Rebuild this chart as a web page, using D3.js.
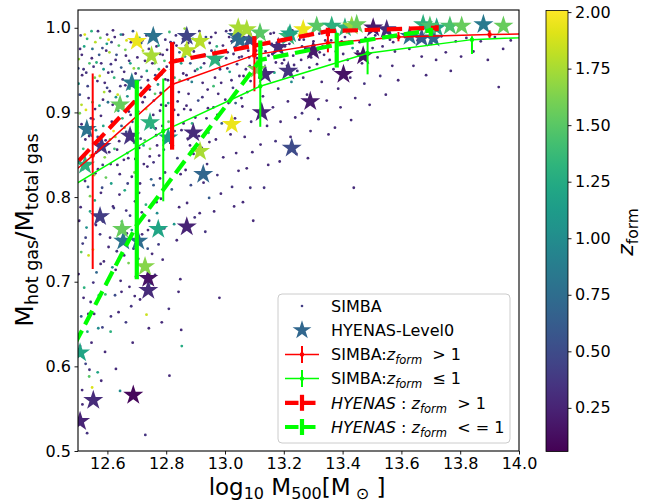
<!DOCTYPE html>
<html>
<head>
<meta charset="utf-8">
<script src="https://cdn.jsdelivr.net/npm/d3@7"></script>
<style>
  body { margin: 0; background: #fff; }
  text { font-family: "DejaVu Sans", sans-serif; white-space: pre; }
</style>
</head>
<body>
<svg id="chart" width="648" height="502"></svg>
<script>
// tick labels
var xTicks = [12.6, 12.8, 13.0, 13.2, 13.4, 13.6, 13.8, 14.0];
var yTicks = [0.5, 0.6, 0.7, 0.8, 0.9, 1.0];
var zTicks = [0.25, 0.5, 0.75, 1.0, 1.25, 1.5, 1.75, 2.0];

// SIMBA haloes: [log10 M500, hot gas fraction, z_form]
var simbaDots = [
  [12.503,0.963,1.7],[12.509,0.991,0.4],[12.514,0.944,0.3],[12.521,0.978,1.2],[12.506,0.921,0.55],[12.527,0.903,1.9],
  [12.512,0.886,0.3],[12.533,0.931,0.45],[12.518,0.857,1.4],[12.538,0.872,0.3],[12.504,0.842,0.8],[12.524,0.819,0.35],
  [12.541,0.801,1.6],[12.509,0.788,0.3],[12.529,0.764,1.05],[12.516,0.745,0.4],[12.536,0.731,1.85],[12.502,0.709,0.3],
  [12.521,0.693,1.3],[12.543,0.676,0.35],[12.511,0.659,0.6],[12.532,0.641,1.2],[12.507,0.624,0.3],[12.526,0.603,0.45],
  [12.538,0.588,1.5],[12.514,0.572,0.3],[12.531,0.521,0.35],[12.546,0.996,1.3],[12.553,0.954,0.35],[12.559,0.983,1.8],
  [12.566,0.937,0.3],[12.572,0.968,0.6],[12.549,0.912,1.45],[12.578,0.896,0.3],[12.561,0.879,1.0],[12.585,0.915,0.3],
  [12.554,0.864,0.4],[12.591,0.847,1.65],[12.568,0.833,0.3],[12.582,0.811,0.5],[12.557,0.796,1.25],[12.594,0.779,0.3],
  [12.575,0.756,0.35],[12.551,0.738,1.9],[12.588,0.724,0.3],[12.563,0.711,0.7],[12.597,0.697,0.3],[12.571,0.684,1.35],
  [12.555,0.662,0.3],[12.583,0.646,0.45],[12.592,0.617,0.3],[12.567,0.593,1.2],[12.579,0.583,0.3],[12.548,0.575,1.9],
  [12.587,0.951,1.1],[12.596,0.973,0.3],[12.576,0.988,1.55],[12.599,0.929,0.45],[12.559,0.828,0.3],[12.547,0.883,1.75],
  [12.573,0.862,0.3],
  [12.604,0.986,1.9],[12.612,0.957,0.35],[12.619,0.997,0.3],[12.623,0.941,1.35],[12.608,0.925,0.3],[12.631,0.968,0.55],
  [12.637,0.902,1.2],[12.615,0.889,0.3],[12.644,0.931,0.4],[12.627,0.871,1.7],[12.606,0.853,0.3],[12.648,0.884,0.65],
  [12.634,0.838,0.3],[12.613,0.816,1.15],[12.641,0.803,0.3],[12.622,0.787,0.4],[12.649,0.771,1.45],[12.609,0.752,0.3],
  [12.632,0.736,0.35],[12.617,0.717,1.0],[12.645,0.701,0.3],[12.626,0.684,0.5],[12.638,0.664,0.3],[12.611,0.641,1.3],
  [12.629,0.597,0.3],[12.643,0.571,1.0],[12.653,0.992,0.3],[12.661,0.974,1.6],[12.657,0.948,0.3],[12.668,0.919,1.05],
  [12.674,0.961,0.35],[12.679,0.897,0.3],[12.664,0.877,0.5],[12.686,0.936,0.3],[12.691,0.864,1.4],[12.671,0.846,0.3],
  [12.683,0.824,0.35],[12.659,0.808,1.25],[12.694,0.795,0.3],[12.677,0.778,0.45],[12.666,0.757,0.3],[12.689,0.739,0.35],
  [12.672,0.722,1.6],[12.697,0.706,0.3],[12.681,0.671,0.35],[12.663,0.652,0.4],[12.686,0.628,0.3],[12.698,0.981,0.3],
  [12.655,0.907,1.8],[12.695,0.913,0.3],
  [12.702,0.965,0.3],[12.709,0.988,1.45],[12.716,0.942,0.35],[12.721,0.973,1.8],[12.727,0.918,0.3],[12.705,0.901,0.55],
  [12.734,0.949,1.2],[12.739,0.886,0.3],[12.713,0.869,0.4],[12.745,0.857,1.6],[12.724,0.839,0.3],[12.749,0.821,0.7],
  [12.708,0.805,0.3],[12.731,0.791,1.3],[12.742,0.772,0.35],[12.718,0.756,0.3],[12.737,0.739,0.55],[12.726,0.715,0.3],
  [12.748,0.698,1.0],[12.711,0.679,0.3],[12.733,0.661,1.85],[12.741,0.645,0.3],[12.729,0.519,0.35],[12.754,0.993,0.3],
  [12.761,0.958,1.65],[12.767,0.978,0.3],[12.772,0.933,1.1],[12.758,0.914,0.35],[12.779,0.902,0.3],[12.784,0.945,0.5],
  [12.764,0.881,0.3],[12.791,0.867,1.2],[12.776,0.849,0.3],[12.796,0.829,0.35],[12.757,0.814,0.6],[12.782,0.798,0.3],
  [12.769,0.781,1.0],[12.793,0.763,0.3],[12.774,0.744,0.4],[12.788,0.726,0.3],[12.762,0.708,0.35],[12.785,0.652,0.3],
  [12.797,0.986,0.35],[12.779,0.969,0.3],
  [12.803,0.974,0.3],[12.811,0.995,1.4],[12.817,0.951,0.35],[12.826,0.982,0.3],[12.822,0.928,0.55],[12.834,0.962,0.3],
  [12.807,0.911,1.2],[12.841,0.897,0.3],[12.829,0.878,0.35],[12.846,0.938,1.6],[12.814,0.864,0.3],[12.838,0.846,0.4],
  [12.849,0.827,0.3],[12.819,0.809,0.6],[12.844,0.788,0.3],[12.827,0.768,1.1],[12.836,0.749,0.3],[12.848,0.703,0.3],
  [12.842,0.688,0.3],[12.809,0.668,0.35],[12.851,0.643,0.3],[12.853,0.624,1.25],[12.811,0.589,0.3],[12.857,0.987,0.35],
  [12.864,0.966,1.2],[12.869,0.944,0.3],[12.876,0.922,0.3],[12.882,0.958,0.6],[12.861,0.904,0.3],[12.888,0.887,1.3],
  [12.873,0.869,0.3],[12.893,0.851,0.35],[12.866,0.832,0.3],[12.884,0.814,0.5],[12.871,0.793,0.3],[12.897,0.776,0.35],
  [12.905,0.979,0.3],[12.913,0.996,0.35],[12.918,0.953,1.1],[12.924,0.935,0.3],[12.931,0.968,0.3],[12.909,0.914,0.5],
  [12.937,0.893,0.3],[12.944,0.876,1.4],[12.921,0.858,0.3],[12.939,0.839,0.35],[12.927,0.817,0.3],[12.946,0.799,0.6],
  [12.914,0.781,0.3],[12.933,0.759,0.35],[12.942,0.905,0.3],[12.948,0.982,0.3],
  [12.953,0.989,0.3],[12.958,0.962,0.5],[12.966,0.941,0.3],[12.972,0.978,1.3],[12.977,0.922,0.3],[12.961,0.906,0.35],
  [12.983,0.951,0.3],[12.989,0.887,0.6],[12.969,0.868,0.3],[12.994,0.847,0.3],[12.974,0.826,0.35],[12.986,0.804,0.3],
  [12.963,0.783,0.3],[12.981,0.681,0.3],[13.004,0.996,0.35],[13.009,0.971,0.3],[13.016,0.948,1.2],[13.023,0.984,0.3],
  [13.027,0.929,0.4],[13.012,0.911,0.3],[13.034,0.893,0.3],[13.041,0.957,0.35],[13.019,0.874,0.3],[13.038,0.852,0.3],
  [13.046,0.831,0.3],[13.024,0.812,0.35],[13.031,0.789,0.3],[13.052,0.992,0.3],[13.057,0.966,0.35],[13.063,0.943,0.3],
  [13.071,0.981,0.6],[13.076,0.924,0.3],[13.059,0.907,0.3],[13.084,0.955,0.3],[13.089,0.889,0.35],[13.067,0.871,0.3],
  [13.093,0.853,0.3],[13.074,0.834,0.3],[13.086,0.811,0.35],[13.061,0.794,0.3],[13.096,0.772,0.3],
  [13.103,0.987,0.3],[13.109,0.964,0.35],[13.117,0.941,0.3],[13.124,0.976,1.1],[13.129,0.919,0.3],[13.112,0.901,0.3],
  [13.136,0.953,0.35],[13.143,0.884,0.3],[13.121,0.862,0.3],[13.147,0.838,0.3],[13.133,0.811,0.35],[13.155,0.993,0.3],
  [13.161,0.969,0.3],[13.168,0.947,1.2],[13.176,0.982,0.3],[13.181,0.928,0.35],[13.163,0.906,0.3],[13.189,0.889,0.3],
  [13.194,0.958,0.3],[13.172,0.866,0.35],[13.186,0.842,0.3],[13.204,0.978,0.35],[13.211,0.955,0.3],[13.218,0.991,0.3],
  [13.226,0.936,1.0],[13.232,0.967,0.3],[13.214,0.913,0.3],[13.239,0.894,0.3],[13.246,0.949,0.35],[13.223,0.871,0.3],
  [13.243,0.851,0.3],[13.253,0.986,0.3],[13.259,0.962,0.3],[13.266,0.941,0.35],[13.273,0.975,0.3],[13.279,0.921,0.3],
  [13.287,0.953,0.3],[13.262,0.899,0.35],[13.291,0.878,0.3],[13.282,0.846,0.3],[13.297,0.992,0.3],
  [13.304,0.979,0.3],[13.313,0.957,0.3],[13.321,0.993,0.35],[13.329,0.936,0.3],[13.337,0.968,0.3],[13.346,0.914,0.3],
  [13.318,0.892,0.35],[13.352,0.874,0.3],[13.361,0.985,0.3],[13.369,0.951,0.3],[13.377,0.972,0.35],[13.385,0.928,0.3],
  [13.393,0.906,0.3],[13.374,0.882,0.3],[13.408,0.989,0.3],[13.417,0.962,0.35],[13.426,0.941,0.3],[13.434,0.976,1.1],
  [13.443,0.917,0.3],[13.429,0.891,0.3],[13.438,0.811,0.3],[13.458,0.983,0.3],[13.466,0.958,0.3],[13.474,0.934,0.35],
  [13.483,0.971,0.3],[13.492,0.909,0.3],[13.511,0.991,0.3],[13.519,0.965,0.3],[13.528,0.943,0.35],[13.536,0.978,0.3],
  [13.547,0.921,0.3],[13.561,0.986,0.3],[13.569,0.955,0.3],[13.578,0.972,0.3],[13.589,0.938,0.3],
  [13.612,0.989,0.3],[13.627,0.975,0.3],[13.641,0.955,0.3],[13.655,0.985,0.35],[13.669,0.966,0.3],[13.684,0.944,0.3],
  [13.702,0.981,0.3],[13.718,0.962,0.3],[13.736,0.990,0.3],[13.751,0.971,0.3],[13.768,0.949,0.3],[13.785,0.984,0.3],
  [13.803,0.966,0.3],[13.821,0.988,0.3],[13.845,0.972,0.3],[13.870,0.984,0.3],[13.894,0.962,0.3],[13.918,0.989,0.3],
  [13.946,0.975,0.3],[13.972,0.985,0.3],[13.931,0.930,0.3],
  // second pass over the dense low-mass cloud
  [12.501,0.952,0.5],[12.506,0.899,1.6],[12.513,0.968,0.3],[12.517,0.833,1.0],[12.523,0.992,1.9],[12.528,0.947,0.35],
  [12.534,0.812,0.6],[12.539,0.958,1.45],[12.544,0.893,0.3],[12.549,0.975,0.8],[12.555,0.826,1.7],[12.558,0.904,0.3],
  [12.563,0.959,1.3],[12.567,0.871,0.45],[12.574,0.943,1.85],[12.578,0.805,0.3],[12.583,0.976,0.5],[12.586,0.884,1.2],
  [12.591,0.935,0.3],[12.595,0.823,1.55],[12.599,0.992,0.35],[12.602,0.912,0.8],[12.607,0.971,1.75],[12.611,0.839,0.3],
  [12.616,0.948,0.4],[12.621,0.878,1.95],[12.625,0.989,0.3],[12.629,0.918,1.1],[12.633,0.856,0.3],[12.639,0.979,1.5],
  [12.642,0.827,0.3],[12.647,0.953,0.65],[12.651,0.893,1.35],[12.656,0.844,0.3],[12.661,0.932,0.3],[12.665,0.985,1.9],
  [12.669,0.816,0.45],[12.673,0.901,0.3],[12.678,0.958,1.2],[12.682,0.871,0.3],[12.687,0.996,0.55],[12.692,0.829,1.6],
  [12.696,0.946,0.3],[12.701,0.883,0.35],[12.706,0.952,1.4],[12.711,0.816,0.3],[12.714,0.929,0.5],[12.719,0.985,0.3],
  [12.723,0.861,1.25],[12.728,0.961,0.3],[12.732,0.904,1.8],[12.736,0.836,0.3],[12.741,0.975,0.4],[12.744,0.927,0.3],
  [12.748,0.882,1.05],[12.753,0.958,0.3],[12.757,0.841,0.35],[12.762,0.922,1.5],[12.766,0.873,0.3],[12.771,0.991,0.3],
  [12.775,0.951,1.3],[12.779,0.822,0.3],[12.783,0.909,0.35],[12.788,0.968,0.3],[12.792,0.856,0.6],[12.797,0.939,0.3],
  [12.504,0.772,0.3],[12.511,0.735,1.5],[12.519,0.681,0.3],[12.526,0.752,0.45],[12.535,0.662,0.3],[12.541,0.783,1.2],
  [12.546,0.628,0.3],[12.552,0.699,0.35],[12.561,0.767,0.3],[12.569,0.645,1.0],[12.577,0.721,0.3],[12.585,0.771,0.3],
  [12.593,0.685,1.4],[12.604,0.741,0.3],[12.612,0.659,0.35],[12.619,0.789,0.3],[12.628,0.714,0.3],[12.636,0.751,1.3],
  [12.648,0.688,0.3],[12.657,0.731,0.3],[12.664,0.784,0.35],[12.675,0.694,0.3],[12.683,0.761,1.1],[12.693,0.683,0.3],
  [12.705,0.727,0.3],[12.717,0.782,0.35],[12.738,0.761,0.3],[12.752,0.733,0.3],[12.767,0.794,0.3],[12.515,0.555,0.3],
  [12.539,0.596,0.35],
  [12.802,0.954,0.3],[12.808,0.889,1.5],[12.815,0.983,0.3],[12.821,0.862,0.3],[12.828,0.941,1.2],[12.833,0.991,0.35],
  [12.839,0.913,0.3],[12.845,0.971,0.6],[12.852,0.879,0.3],[12.858,0.946,0.3],[12.863,0.999,1.7],[12.869,0.908,0.3],
  [12.875,0.982,0.35],[12.881,0.861,0.3],[12.887,0.936,0.9],[12.894,0.972,0.3],[12.899,0.894,0.3],[12.906,0.951,1.3],
  [12.911,0.872,0.3],[12.917,0.986,0.3],[12.923,0.918,0.35],[12.929,0.958,0.3],[12.935,0.989,0.5],[12.941,0.927,0.3],
  [12.947,0.865,0.3],[12.954,0.973,0.3],[12.961,0.931,1.4],[12.968,0.994,0.3],[12.974,0.897,0.3],[12.979,0.962,0.35],
  [12.987,0.935,0.3],[12.993,0.979,0.3],[13.001,0.915,0.3],[13.008,0.952,0.35],[13.014,0.989,0.3],[13.022,0.938,0.3],
  [13.029,0.969,0.3],[13.036,0.911,0.6],[13.044,0.981,0.3],[13.049,0.943,0.3],[13.056,0.917,0.3],[13.064,0.989,0.3],
  [13.071,0.951,0.35],[13.079,0.973,0.3],[13.087,0.937,0.3],[13.094,0.988,0.3],
  [13.106,0.973,0.3],[13.119,0.958,0.3],[13.131,0.989,0.35],[13.148,0.967,0.3],[13.159,0.981,0.3],[13.173,0.959,0.3],
  [13.188,0.973,0.3],[13.201,0.962,0.35],[13.219,0.981,0.3],[13.235,0.956,0.3],[13.251,0.971,0.3],[13.268,0.986,0.3],
  [13.284,0.966,0.3],[13.301,0.984,0.3],[13.322,0.971,0.3],[13.341,0.985,0.3],[13.356,0.962,0.3],[13.381,0.992,0.3],
  [13.402,0.969,0.3],[13.421,0.983,0.3],[13.451,0.972,0.3],[13.478,0.988,0.3],[13.502,0.976,0.3],[13.541,0.991,0.3],
  [13.572,0.983,0.3],
  // third pass, upper part of the cloud
  [12.502,0.934,1.1],[12.507,0.975,0.3],[12.512,0.909,1.8],[12.519,0.951,0.35],[12.525,0.868,0.3],[12.531,0.987,1.35],
  [12.536,0.917,0.3],[12.542,0.849,1.9],[12.547,0.964,0.3],[12.552,0.892,0.55],[12.557,0.941,1.6],[12.562,0.853,0.3],
  [12.568,0.996,0.35],[12.573,0.908,1.25],[12.579,0.958,0.3],[12.584,0.838,0.4],[12.589,0.924,1.75],[12.594,0.867,0.3],
  [12.598,0.981,1.15],[12.603,0.947,0.3],[12.609,0.868,1.6],[12.614,0.983,0.45],[12.618,0.909,0.3],[12.624,0.857,1.4],
  [12.628,0.962,0.3],[12.635,0.921,1.85],[12.640,0.866,0.3],[12.646,0.992,1.0],[12.652,0.939,0.3],[12.658,0.882,1.55],
  [12.663,0.967,0.3],[12.668,0.852,0.6],[12.675,0.928,1.3],[12.680,0.983,0.3],[12.685,0.889,0.45],[12.690,0.952,1.7],
  [12.695,0.845,0.3],[12.703,0.935,1.2],[12.708,0.858,0.3],[12.715,0.982,0.6],[12.720,0.912,0.3],[12.727,0.867,1.5],
  [12.733,0.991,0.3],[12.738,0.938,0.35],[12.744,0.848,0.3],[12.750,0.971,1.9],[12.756,0.897,0.3],[12.763,0.944,0.4],
  [12.769,0.861,0.3],[12.774,0.979,1.25],[12.781,0.923,0.3],[12.787,0.884,0.35],[12.794,0.961,1.45],[12.799,0.908,0.3],
  [12.806,0.938,0.3],[12.813,0.874,0.35],[12.820,0.966,1.6],[12.827,0.903,0.3],[12.835,0.979,0.3],[12.843,0.924,0.35],
  [12.851,0.958,1.15],[12.859,0.887,0.3],[12.867,0.979,0.3],[12.874,0.939,0.35],[12.883,0.903,0.3],[12.891,0.987,1.3],
  [12.898,0.949,0.3],[13.004,0.964,0.3],[13.018,0.997,0.3],[13.033,0.977,0.35],[13.048,0.965,0.3],[13.067,0.996,0.3],
  [13.082,0.965,0.3],[13.115,0.995,0.3],[13.138,0.972,0.3],[13.166,0.994,0.3],[13.196,0.984,0.3],[13.229,0.997,0.3],
  [13.262,0.978,0.35],[13.293,0.965,0.3],[13.332,0.978,0.3],[13.365,0.996,0.3],[13.397,0.984,0.3]
];

// HYENAS-Level0 haloes: [log10 M500, hot gas fraction, z_form]
var hyenasStars = [
  [12.507,0.535,0.25],[12.552,0.560,0.3],[12.688,0.566,0.1],[12.507,0.616,1.2],[12.739,0.690,0.3],[12.739,0.704,0.15],
  [12.728,0.718,1.65],[12.654,0.748,0.8],[12.705,0.748,0.75],[12.650,0.762,1.55],[12.773,0.762,1.2],[12.870,0.765,0.25],
  [12.575,0.777,0.4],[12.926,0.827,0.7],[12.524,0.838,1.3],[12.915,0.854,1.75],[13.227,0.858,0.5],[12.580,0.860,0.35],
  [12.807,0.870,1.1],[12.677,0.872,0.35],[12.892,0.876,0.3],[12.530,0.880,0.8],[13.023,0.886,1.95],[12.745,0.888,1.3],
  [13.125,0.900,0.25],[12.643,0.909,1.55],[13.290,0.913,0.2],[12.683,0.935,0.85],[13.136,0.945,0.3],[13.403,0.945,0.15],
  [13.215,0.949,0.35],[13.108,0.951,1.6],[12.966,0.963,1.3],[12.750,0.967,1.75],[13.470,0.967,0.15],[12.870,0.973,1.8],
  [13.300,0.973,0.2],[13.181,0.977,0.3],[12.700,0.984,1.95],[12.915,0.984,1.8],[13.085,0.986,0.5],[13.669,0.988,0.6],
  [13.709,0.988,0.7],[12.756,0.990,0.8],[12.870,0.990,0.45],[13.040,0.990,0.7],[13.051,0.985,0.75],[13.215,0.990,1.35],
  [13.628,0.990,0.75],[13.119,0.994,1.5],[13.221,0.993,1.2],[13.074,0.998,1.75],[13.266,0.998,1.95],[13.550,0.998,0.3],
  [13.504,1.000,0.2],[13.045,1.000,1.75],[13.720,1.000,1.2],[13.312,1.002,1.5],[13.363,1.002,1.3],[13.408,1.000,1.3],
  [13.431,1.002,1.7],[13.448,1.004,1.55],[13.674,1.004,1.3],[13.697,1.002,1.45],[13.765,1.002,1.45],[13.805,1.002,1.55],
  [13.879,1.004,0.85],[13.947,1.002,1.55]
];

// binned medians: [log10 M500, median, lower, upper]
var simbaHighZ = [
  [12.30,0.775,0.70,0.84],[12.55,0.849,0.715,0.946],[12.82,0.933,0.885,0.972],[13.10,0.968,0.925,0.983],
  [13.35,0.982,0.971,0.998],[13.59,0.989,0.984,0.995],[13.90,0.992,0.988,0.997],[14.20,0.994,0.990,0.998]
];
var simbaLowZ = [
  [12.30,0.775,0.68,0.84],[12.79,0.878,0.795,0.940],[13.12,0.931,0.883,0.977],[13.485,0.970,0.945,0.984],
  [13.84,0.986,0.969,0.990],[14.20,0.991,0.980,0.997]
];
var hyenasHighZ = [
  [12.40,0.805,0.70,0.90],[12.82,0.960,0.856,0.983],[13.10,0.979,0.965,0.990],[13.35,0.996,0.990,1.000],
  [13.72,1.000,0.996,1.003]
];
var hyenasLowZ = [
  [12.42,0.580,0.50,0.66],[12.70,0.767,0.703,0.938],[13.12,0.962,0.940,0.985],[13.38,0.980,0.953,0.994],
  [13.70,0.997,0.990,1.000]
];

var plot = {left: 78, top: 10, right: 519, bottom: 451};

var x = d3.scaleLinear().domain([12.5, 14.0]).range([plot.left, plot.right]);
var y = d3.scaleLinear().domain([0.5, 1.021]).range([plot.bottom, plot.top]);
var zScale = d3.scaleLinear().domain([0.057, 2.007]).range([451.5, 10.5]);
var color = d3.scaleSequential(d3.interpolateViridis).domain([0.057, 2.007]);

var svg = d3.select("#chart");
var defs = svg.append("defs");

defs.append("clipPath").attr("id", "clip")
  .append("rect")
  .attr("x", plot.left).attr("y", plot.top)
  .attr("width", plot.right - plot.left).attr("height", plot.bottom - plot.top);

var g = svg.append("g").attr("clip-path", "url(#clip)");

// SIMBA scatter
g.append("g").selectAll("circle")
    .data(simbaDots)
  .enter().append("circle")
    .attr("cx", function(d) { return x(d[0]); })
    .attr("cy", function(d) { return y(d[1]); })
    .attr("r", 1.4)
    .attr("fill", function(d) { return color(d[2]); });

// HYENAS stars
var star = d3.symbol(d3.symbolStar, 125);
g.append("g").selectAll("path")
    .data(hyenasStars)
  .enter().append("path")
    .attr("d", star)
    .attr("transform", function(d) { return "translate(" + x(d[0]) + "," + y(d[1]) + ")"; })
    .attr("fill", function(d) { return color(d[2]); });

// median lines with error bars
function drawSeries(data, col, lw, ebw, dash, marker) {
  var s = g.append("g");
  s.selectAll("line")
      .data(data)
    .enter().append("line")
      .attr("x1", function(d) { return x(d[0]); })
      .attr("x2", function(d) { return x(d[0]); })
      .attr("y1", function(d) { return y(d[2]); })
      .attr("y2", function(d) { return y(d[3]); })
      .attr("stroke", col)
      .attr("stroke-width", ebw);
  s.append("path")
      .datum(data)
      .attr("d", d3.line().x(function(d) { return x(d[0]); }).y(function(d) { return y(d[1]); }))
      .attr("fill", "none")
      .attr("stroke", col)
      .attr("stroke-width", lw)
      .attr("stroke-dasharray", dash);
  if (marker) {
    s.selectAll("circle")
        .data(data)
      .enter().append("circle")
        .attr("cx", function(d) { return x(d[0]); })
        .attr("cy", function(d) { return y(d[1]); })
        .attr("r", 2.2)
        .attr("fill", col);
  }
}
drawSeries(simbaHighZ, "#ff0000", 1.5, 2, null, true);
drawSeries(simbaLowZ, "#00ff00", 1.5, 2, null, true);
drawSeries(hyenasHighZ, "#ff0000", 4.2, 4.2, "15.4,6.7", false);
drawSeries(hyenasLowZ, "#00ff00", 4.2, 4.2, "15.4,6.7", false);

// frame and axes
svg.append("rect")
  .attr("x", plot.left).attr("y", plot.top)
  .attr("width", plot.right - plot.left).attr("height", plot.bottom - plot.top)
  .attr("fill", "none").attr("stroke", "#000").attr("stroke-width", 1.1);

var xAxis = svg.append("g")
  .attr("transform", "translate(0," + plot.bottom + ")")
  .call(d3.axisBottom(x).tickValues(xTicks).tickFormat(d3.format(".1f"))
    .tickSize(3.5).tickSizeOuter(0).tickPadding(3.5));
var yAxis = svg.append("g")
  .attr("transform", "translate(" + plot.left + ",0)")
  .call(d3.axisLeft(y).tickValues(yTicks).tickFormat(d3.format(".1f"))
    .tickSize(3.5).tickSizeOuter(0).tickPadding(3.5));

// colorbar
var grad = defs.append("linearGradient").attr("id", "viridis")
  .attr("x1", 0).attr("y1", 1).attr("x2", 0).attr("y2", 0);
d3.range(0, 1.0001, 0.05).forEach(function(t) {
  grad.append("stop").attr("offset", t).attr("stop-color", d3.interpolateViridis(t));
});
svg.append("rect")
  .attr("x", 546).attr("y", 10.5).attr("width", 22).attr("height", 441)
  .attr("fill", "url(#viridis)").attr("stroke", "#000").attr("stroke-width", 0.8);
var cAxis = svg.append("g")
  .attr("transform", "translate(568,0)")
  .call(d3.axisRight(zScale).tickValues(zTicks).tickFormat(d3.format(".2f"))
    .tickSize(3.5).tickSizeOuter(0).tickPadding(3.5));

[xAxis, yAxis, cAxis].forEach(function(a) {
  a.select(".domain").remove();
  a.attr("font-family", "DejaVu Sans").attr("font-size", 16);
  a.selectAll("line").attr("stroke", "#000").attr("stroke-width", 0.9);
  a.selectAll("text").attr("fill", "#000");
});

// text helper: parts are [text, style] with style "", "i", "sub", "isub"
function richText(sel, parts, size, subSize, shift) {
  var down = false;
  parts.forEach(function(p) {
    var t = sel.append("tspan").text(p[0]);
    var isSub = p[1] === "sub" || p[1] === "isub";
    if (p[1] === "i" || p[1] === "isub") t.attr("font-style", "italic");
    t.attr("font-size", isSub ? subSize : size);
    if (isSub && !down) { t.attr("dy", shift); down = true; }
    if (!isSub && down) { t.attr("dy", -shift); down = false; }
  });
}

// axis labels
richText(svg.append("text").attr("x", 297).attr("y", 495).attr("text-anchor", "middle"),
  [["log", ""], ["10", "sub"], [" M", ""], ["500", "sub"], ["[M", ""], [" \u2299", "sub"], [" ]", ""]], 23, 16, 4);
richText(svg.append("text").attr("transform", "translate(33,230) rotate(-90)").attr("text-anchor", "middle"),
  [["M", ""], ["hot gas", "sub"], ["/M", ""], ["total gas", "sub"]], 25, 17.5, 5);
richText(svg.append("text").attr("transform", "translate(633,232) rotate(-90)").attr("text-anchor", "middle"),
  [["z", "i"], ["form", "sub"]], 22, 15.5, 4.5);

// legend
var leg = svg.append("g");
leg.append("rect")
  .attr("x", 278).attr("y", 294).attr("width", 232).attr("height", 149).attr("rx", 4)
  .attr("fill", "#fff").attr("fill-opacity", 0.8).attr("stroke", "#cccccc").attr("stroke-width", 1);

var legRows = [
  {kind: "dot", parts: [["SIMBA", ""]]},
  {kind: "star", parts: [["HYENAS-Level0", ""]]},
  {kind: "thin", col: "#ff0000", parts: [["SIMBA:", ""], ["z", "i"], ["form", "isub"], ["  > 1", ""]]},
  {kind: "thin", col: "#00ff00", parts: [["SIMBA:", ""], ["z", "i"], ["form", "isub"], ["  \u2264 1", ""]]},
  {kind: "thick", col: "#ff0000", parts: [["HYENAS", "i"], [" : ", ""], ["z", "i"], ["form", "isub"], ["  > 1", ""]]},
  {kind: "thick", col: "#00ff00", parts: [["HYENAS", "i"], [" : ", ""], ["z", "i"], ["form", "isub"], ["  < = 1", ""]]}
];

legRows.forEach(function(r, i) {
  var cy = 306 + i * 24.2;
  var hx = 302;
  if (r.kind === "dot") {
    leg.append("circle").attr("cx", hx).attr("cy", cy).attr("r", 1.3).attr("fill", color(0.4));
  } else if (r.kind === "star") {
    leg.append("path").attr("d", d3.symbol(d3.symbolStar, 110))
      .attr("transform", "translate(" + hx + "," + cy + ")")
      .attr("fill", d3.interpolateViridis(0.33));
  } else if (r.kind === "thin") {
    leg.append("line").attr("x1", 285).attr("x2", 319).attr("y1", cy).attr("y2", cy)
      .attr("stroke", r.col).attr("stroke-width", 1.5);
    leg.append("line").attr("x1", hx).attr("x2", hx).attr("y1", cy - 8.5).attr("y2", cy + 8.5)
      .attr("stroke", r.col).attr("stroke-width", 2);
    leg.append("circle").attr("cx", hx).attr("cy", cy).attr("r", 2.2).attr("fill", r.col);
  } else {
    leg.append("line").attr("x1", 285).attr("x2", 319).attr("y1", cy).attr("y2", cy)
      .attr("stroke", r.col).attr("stroke-width", 4.2).attr("stroke-dasharray", "13.5,3.5");
    leg.append("line").attr("x1", hx).attr("x2", hx).attr("y1", cy - 8).attr("y2", cy + 8)
      .attr("stroke", r.col).attr("stroke-width", 4.2);
  }
  richText(leg.append("text").attr("x", 331).attr("y", cy + 5.8), r.parts, 16, 11.5, 4);
});
</script>
</body>
</html>
